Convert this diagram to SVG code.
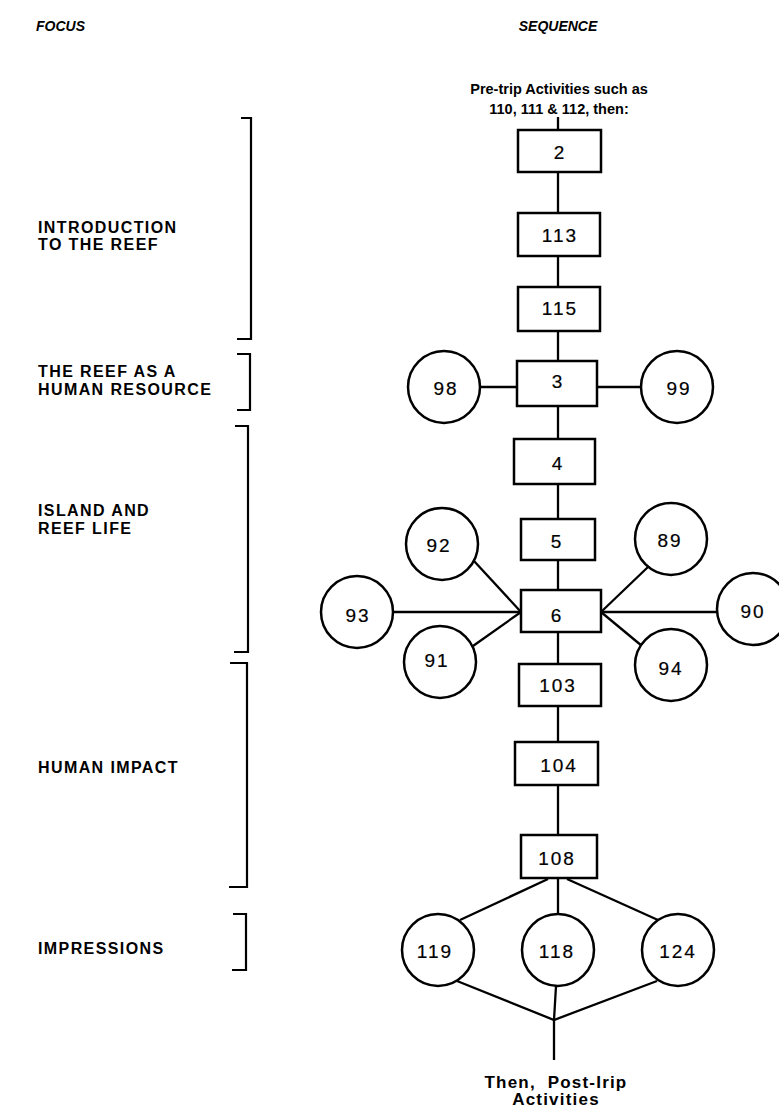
<svg xmlns="http://www.w3.org/2000/svg" width="779" height="1111" viewBox="0 0 779 1111">
<style>
.hd{font-family:"Liberation Sans",Arial,sans-serif;font-size:14px;font-weight:bold;font-style:italic;fill:#000}
.lb{font-family:"Liberation Sans",Arial,sans-serif;font-size:16px;font-weight:bold;fill:#000;letter-spacing:1.4px}
.tx{font-family:"Liberation Sans",Arial,sans-serif;font-size:14.5px;font-weight:bold;fill:#000;text-anchor:middle}
.ft{font-family:"Liberation Sans",Arial,sans-serif;font-size:17px;font-weight:bold;fill:#000;text-anchor:middle;letter-spacing:1.2px}
.nm{font-family:"Liberation Sans",Arial,sans-serif;font-size:19px;fill:#000;stroke:#000;stroke-width:0.2;text-anchor:middle;letter-spacing:2px}
.bx{fill:#fff;stroke:#000;stroke-width:2.5}
.cr{fill:#fff;stroke:#000;stroke-width:2.5}
.ln{fill:none;stroke:#000;stroke-width:2.3}
.br{fill:none;stroke:#000;stroke-width:2.2}
</style>
<rect width="779" height="1111" fill="#fff"/>
<text class="hd" x="36" y="31">FOCUS</text>
<text class="hd" x="558" y="31" text-anchor="middle">SEQUENCE</text>
<g id="labels">
<text class="lb" x="38" y="233">INTRODUCTION</text>
<text class="lb" x="38" y="250">TO THE REEF</text>
<text class="lb" x="38" y="377">THE REEF AS A</text>
<text class="lb" x="38" y="395">HUMAN RESOURCE</text>
<text class="lb" x="38" y="516">ISLAND AND</text>
<text class="lb" x="38" y="534">REEF LIFE</text>
<text class="lb" x="38" y="773">HUMAN IMPACT</text>
<text class="lb" x="38" y="954">IMPRESSIONS</text>
</g>
<g id="brackets">
<path class="br" d="M241,118 H251 V339 H237"/>
<path class="br" d="M237,354 H250 V410 H237"/>
<path class="br" d="M235,426 H248 V652 H234"/>
<path class="br" d="M230,663 H247 V887 H229"/>
<path class="br" d="M233,914 H246 V970 H232"/>
</g>
<text class="tx" x="559" y="94">Pre-trip Activities such as</text>
<text class="tx" x="559" y="114">110, 111 &amp; 112, then:</text>
<g id="connectors">
<path class="ln" d="M558,117 V130"/>
<path class="ln" d="M558,172 V213"/>
<path class="ln" d="M558,256 V287"/>
<path class="ln" d="M558,331 V361"/>
<path class="ln" d="M480,387 H517"/>
<path class="ln" d="M597,387 H641"/>
<path class="ln" d="M558,406 V439"/>
<path class="ln" d="M558,484 V519"/>
<path class="ln" d="M558,560 V590"/>
<path class="ln" d="M521,612 L474,561"/>
<path class="ln" d="M521,612 H393"/>
<path class="ln" d="M521,612 L473,646"/>
<path class="ln" d="M601,612 L648,567"/>
<path class="ln" d="M601,612 H717"/>
<path class="ln" d="M601,612 L642,646"/>
<path class="ln" d="M558,632 V664"/>
<path class="ln" d="M558,706 V742"/>
<path class="ln" d="M558,785 V835"/>
<path class="ln" d="M548,879 L460,920"/>
<path class="ln" d="M558,879 V914"/>
<path class="ln" d="M567,879 L658,920"/>
<path class="ln" d="M457,981 L554,1020 L657,981"/>
<path class="ln" d="M556,986 L554,1020 V1060"/>
</g>
<g id="n2"><rect class="bx" x="518" y="130" width="83" height="42"/><text class="nm" x="560" y="159">2</text></g>
<g id="n113"><rect class="bx" x="518" y="213" width="82" height="43"/><text class="nm" x="560" y="242">113</text></g>
<g id="n115"><rect class="bx" x="518" y="287" width="82" height="44"/><text class="nm" x="560" y="315">115</text></g>
<g id="n3"><rect class="bx" x="517" y="361" width="80" height="45"/><text class="nm" x="558" y="388">3</text></g>
<g id="n98"><circle class="cr" cx="444" cy="387" r="36"/><text class="nm" x="446" y="395">98</text></g>
<g id="n99"><circle class="cr" cx="677" cy="387" r="36"/><text class="nm" x="679" y="395">99</text></g>
<g id="n4"><rect class="bx" x="514" y="439" width="81" height="45"/><text class="nm" x="558" y="470">4</text></g>
<g id="n5"><rect class="bx" x="521" y="519" width="74" height="41"/><text class="nm" x="557" y="548">5</text></g>
<g id="n6"><rect class="bx" x="521" y="590" width="80" height="42"/><text class="nm" x="557" y="622">6</text></g>
<g id="n92"><circle class="cr" cx="442" cy="544" r="36"/><text class="nm" x="439" y="552">92</text></g>
<g id="n93"><circle class="cr" cx="357" cy="612" r="36"/><text class="nm" x="358" y="622">93</text></g>
<g id="n91"><circle class="cr" cx="440" cy="662" r="36"/><text class="nm" x="437" y="667">91</text></g>
<g id="n89"><circle class="cr" cx="671" cy="539" r="36"/><text class="nm" x="670" y="547">89</text></g>
<g id="n90"><circle class="cr" cx="753" cy="609" r="36"/><text class="nm" x="753" y="618">90</text></g>
<g id="n94"><circle class="cr" cx="671" cy="665" r="36"/><text class="nm" x="671" y="675">94</text></g>
<g id="n103"><rect class="bx" x="519" y="664" width="82" height="42"/><text class="nm" x="558" y="692">103</text></g>
<g id="n104"><rect class="bx" x="515" y="742" width="83" height="43"/><text class="nm" x="559" y="772">104</text></g>
<g id="n108"><rect class="bx" x="521" y="835" width="76" height="43"/><text class="nm" x="557" y="865">108</text></g>
<g id="n119"><circle class="cr" cx="438" cy="950" r="36"/><text class="nm" x="435" y="958">119</text></g>
<g id="n118"><circle class="cr" cx="558" cy="950" r="36"/><text class="nm" x="557" y="958">118</text></g>
<g id="n124"><circle class="cr" cx="678" cy="950" r="36"/><text class="nm" x="678" y="958">124</text></g>
<text class="ft" x="556" y="1088" xml:space="preserve">Then,  Post-Irip</text>
<text class="ft" x="556" y="1105">Activities</text>
</svg>
